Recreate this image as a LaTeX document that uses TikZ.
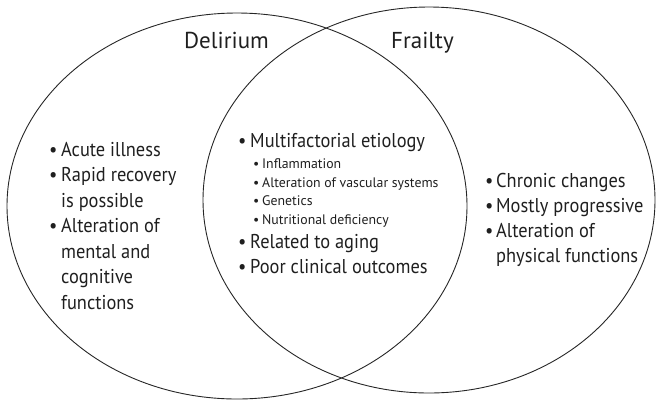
\documentclass[tikz,border=0pt]{standalone}
\usepackage{fontspec}
\setmainfont{PT Sans}[FakeStretch=0.92]
\newfontfamily\widefont{PT Sans}
\newcommand{\vbul}[1]{\makebox[#1][l]{•}}
\begin{document}
\begin{tikzpicture}[x=1pt,y=-1pt,
  main/.style={inner sep=0pt, anchor=base west, text=black!88, font=\fontsize{20}{24}\selectfont},
  sub/.style={inner sep=0pt, anchor=base west, text=black!88, font=\widefont\fontsize{13.8}{16}\selectfont},
  title/.style={inner sep=0pt, anchor=base west, text=black!88, font=\widefont\fontsize{23}{27}\selectfont},
  venn/.style={draw=black!85, line width=0.9pt}]
\useasboundingbox (0,0) rectangle (656,400);
\draw[venn] (237,206) ellipse [x radius=230pt, y radius=193pt];
\draw[venn] (429,200) ellipse [x radius=226pt, y radius=193pt];
\node[title] (tdel) at (184,48) {Delirium};
\node[title] (tfra) at (391,48) {Frailty};
% left
\node[main] (l1) at (49,156) {\vbul{12pt}Acute illness};
\node[main] (l2) at (49,181.5) {\vbul{12pt}Rapid recovery};
\node[main] (l3) at (61,207) {is possible};
\node[main] (l4) at (49,232.5) {\vbul{12pt}Alteration of};
\node[main] (l5) at (61,258) {mental and};
\node[main] (l6) at (61,283.5) {cognitive};
\node[main] (l7) at (61,309) {functions};
% middle
\node[main] (m1) at (238,147) {\vbul{12pt}Multifactorial etiology};
\node[sub] (m2) at (253,168) {\vbul{9pt}Inflammation};
\node[sub] (m3) at (253,187) {\vbul{9pt}Alteration of vascular systems};
\node[sub] (m4) at (253,205.5) {\vbul{9pt}Genetics};
\node[sub] (m5) at (253,224) {\vbul{9pt}Nutritional deficiency};
\node[main] (m6) at (238,248) {\vbul{12pt}Related to aging};
\node[main] (m7) at (238,273) {\vbul{12pt}Poor clinical outcomes};
% right
\node[main] (r1) at (485,187) {\vbul{11pt}Chronic changes};
\node[main] (r2) at (485,212) {\vbul{11pt}Mostly progressive};
\node[main] (r3) at (485,237) {\vbul{11pt}Alteration of};
\node[main] (r4) at (496,262) {physical functions};
\end{tikzpicture}
\end{document}
